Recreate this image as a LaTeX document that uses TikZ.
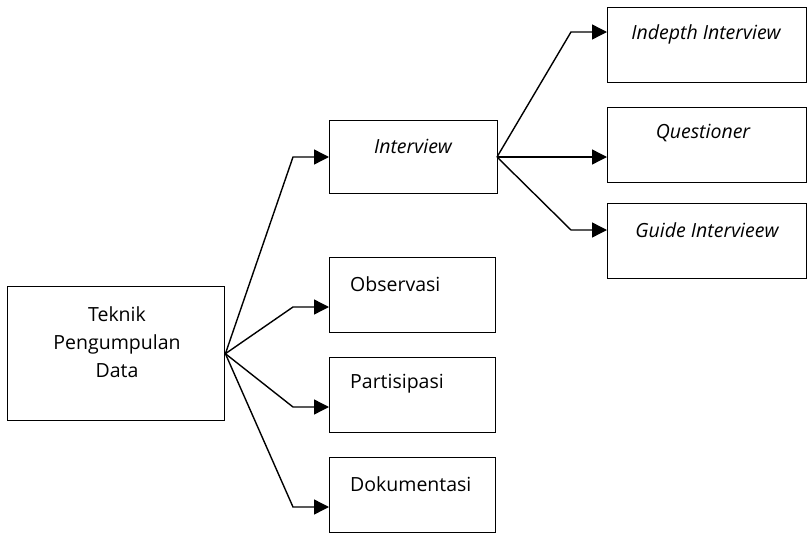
\documentclass[tikz,border=0pt]{standalone}
\usepackage{fontspec}
\setmainfont{Open Sans}
\usetikzlibrary{arrows.meta}
\begin{document}
\begin{tikzpicture}[x=1pt,y=-1pt,
  box/.style={draw,line width=1.4pt,rectangle,inner sep=0pt,anchor=north west},
  lbl/.style={font=\fontsize{19.5}{28}\selectfont,inner sep=0pt},
  ilbl/.style={font=\fontsize{19.5}{28}\selectfont\itshape,inner sep=0pt},
  conn/.style={line width=1.4pt,-{Triangle[length=15pt,width=15pt]}}]
\useasboundingbox (0,0) rectangle (807,533);

% boxes
\node[box,minimum width=217pt,minimum height=134pt] (main) at (7,286) {};
\node[box,minimum width=168pt,minimum height=73pt] (intv) at (329,120) {};
\node[box,minimum width=166pt,minimum height=75pt] (obs) at (329,257) {};
\node[box,minimum width=166pt,minimum height=75pt] (part) at (329,357) {};
\node[box,minimum width=166pt,minimum height=75pt] (dok) at (329,457) {};
\node[box,minimum width=199pt,minimum height=75pt] (indepth) at (607,7) {};
\node[box,minimum width=199pt,minimum height=75pt] (quest) at (607,107) {};
\node[box,minimum width=199pt,minimum height=75pt] (guide) at (607,203) {};

% labels
\node[lbl,align=center] (tmain) at (117,342) {Teknik\\Pengumpulan\\Data};
\node[ilbl] (tintv) at (413,146) {Interview};
\node[lbl,anchor=west] (tobs) at (350,284) {Observasi};
\node[lbl,anchor=west] (tpart) at (350,384) {Partisipasi};
\node[lbl,anchor=west] (tdok) at (350,484) {Dokumentasi};
\node[ilbl] (tindepth) at (706,34) {Indepth Interview};
\node[ilbl] (tquest) at (703,133) {Questioner};
\node[ilbl] (tguide) at (707,230) {Guide Intervieew};

% elbow points
\coordinate (e1) at (293,157);
\coordinate (e2) at (293,307);
\coordinate (e3) at (293,407);
\coordinate (e4) at (293,507);
\coordinate (f0) at (497,157);
\coordinate (g1) at (571,32);
\coordinate (g2) at (571,157);
\coordinate (g3) at (571,230);

% connectors
\draw[conn] (main.east) -- (e1) -- (e1 -| intv.west);
\draw[conn] (main.east) -- (e2) -- (e2 -| obs.west);
\draw[conn] (main.east) -- (e3) -- (e3 -| part.west);
\draw[conn] (main.east) -- (e4) -- (e4 -| dok.west);
\draw[conn] (f0) -- (g1) -- (g1 -| indepth.west);
\draw[conn] (f0) -- (g2) -- (g2 -| quest.west);
\draw[conn] (f0) -- (g3) -- (g3 -| guide.west);
\end{tikzpicture}
\end{document}
